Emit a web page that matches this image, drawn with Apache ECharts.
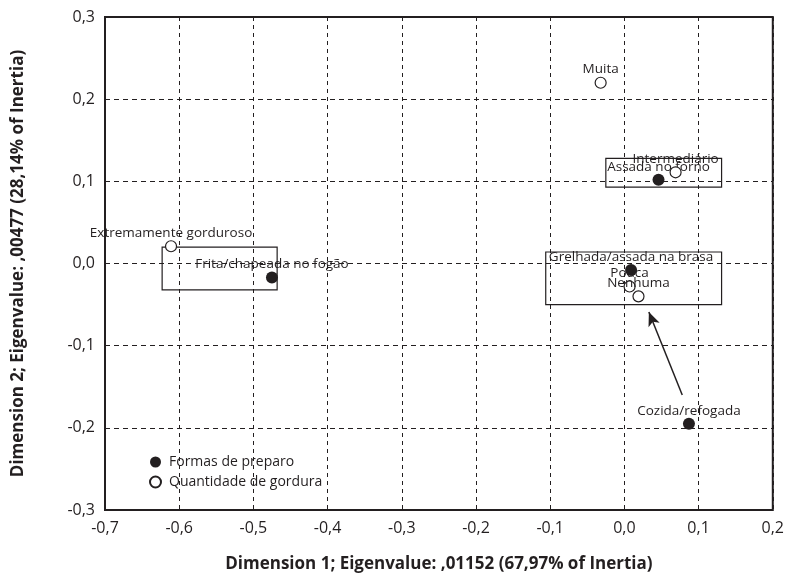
<!DOCTYPE html>
<html>
<head>
<meta charset="utf-8">
<script src="https://cdn.jsdelivr.net/npm/echarts@6/dist/echarts.min.js"></script>
<style>
  html, body { margin: 0; padding: 0; background: #fff; }
  #chart { width: 787px; height: 584px; }
</style>
</head>
<body>
<div id="chart"></div>
<script>
// Correspondence analysis map: cooking methods vs. amount of fat
const prepLabels = ['Assada no forno', 'Grelhada/assada na brasa', 'Frita/chapeada no fogão', 'Cozida/refogada'];
const prepX = [0.046, 0.009, -0.475, 0.087];
const prepY = [0.102, -0.008, -0.017, -0.195];

const fatLabels = ['Muita', 'Intermediário', 'Pouca', 'Nenhuma', 'Extremamente gorduroso'];
const fatX = [-0.032, 0.069, 0.007, 0.019, -0.611];
const fatY = [0.220, 0.111, -0.028, -0.040, 0.021];

// grouping boxes: [x0, y0, x1, y1]
const boxes = [
  [-0.623, 0.020, -0.468, -0.032],
  [-0.025, 0.128, 0.131, 0.093],
  [-0.106, 0.014, 0.131, -0.050]
];
// arrow from Cozida/refogada towards the central group
const arrowFrom = [0.078, -0.160];
const arrowTo = [0.033, -0.059];

const xTicks = { min: -0.7, max: 0.2, step: 0.1 };
const yTicks = { min: -0.3, max: 0.3, step: 0.1 };

const FONT = "'Open Sans', 'Liberation Sans', sans-serif";
const fmt = v => v.toFixed(1).replace('.', ',');

const chart = echarts.init(document.getElementById('chart'), null, { renderer: 'canvas' });

const pointLabel = {
  show: true,
  position: 'top',
  distance: 0,
  fontFamily: FONT,
  fontSize: 13.5,
  color: '#231f20',
  formatter: p => p.data.name
};

chart.setOption({
  animation: false,
  backgroundColor: '#fff',
  grid: {
    left: 105, top: 17, right: 14, bottom: 74,
    show: true, borderColor: '#231f20', borderWidth: 2, backgroundColor: 'transparent'
  },
  legend: {
    orient: 'vertical',
    left: 144, top: 450,
    itemWidth: 11, itemHeight: 11, itemGap: 6,
    icon: 'circle',
    textStyle: { fontFamily: FONT, fontSize: 14, color: '#231f20', padding: [0, 0, 0, 3] },
    data: ['Formas de preparo', 'Quantidade de gordura']
  },
  xAxis: {
    type: 'value',
    min: xTicks.min, max: xTicks.max, interval: xTicks.step,
    name: 'Dimension 1; Eigenvalue: ,01152 (67,97% of Inertia)',
    nameLocation: 'middle', nameGap: 46,
    nameTextStyle: { fontFamily: FONT, fontSize: 17, fontWeight: 'bold', color: '#231f20' },
    axisLine: { show: false },
    axisTick: { show: false },
    axisLabel: { formatter: fmt, fontFamily: FONT, fontSize: 16, color: '#231f20', margin: 10 },
    splitLine: { show: true, lineStyle: { color: '#231f20', type: [4, 4], width: 1 } }
  },
  yAxis: {
    type: 'value',
    min: yTicks.min, max: yTicks.max, interval: yTicks.step,
    name: 'Dimension 2; Eigenvalue: ,00477 (28,14% of Inertia)',
    nameLocation: 'middle', nameGap: 78, nameRotate: 90,
    nameTextStyle: { fontFamily: FONT, fontSize: 17, fontWeight: 'bold', color: '#231f20' },
    axisLine: { show: false },
    axisTick: { show: false },
    axisLabel: { formatter: fmt, fontFamily: FONT, fontSize: 16, color: '#231f20', margin: 10 },
    splitLine: { show: true, lineStyle: { color: '#231f20', type: [5, 4], width: 1 } }
  },
  series: [
    {
      name: 'Formas de preparo',
      type: 'scatter',
      symbol: 'circle',
      symbolSize: 12,
      itemStyle: { color: '#231f20', opacity: 1 },
      label: pointLabel,
      data: prepLabels.map((n, i) => ({ name: n, value: [prepX[i], prepY[i]] })),
      z: 3
    },
    {
      name: 'Quantidade de gordura',
      type: 'scatter',
      symbol: 'circle',
      symbolSize: 11,
      itemStyle: { color: '#fff', borderColor: '#231f20', borderWidth: 1.2, opacity: 1 },
      label: pointLabel,
      data: fatLabels.map((n, i) => ({ name: n, value: [fatX[i], fatY[i]] })),
      z: 4
    },
    {
      name: 'annotations',
      type: 'scatter',
      data: [],
      silent: true,
      markArea: {
        silent: true,
        itemStyle: { color: 'rgba(0,0,0,0)', borderColor: '#231f20', borderWidth: 1.2 },
        label: { show: false },
        data: boxes.map(b => [{ coord: [b[0], b[1]] }, { coord: [b[2], b[3]] }])
      },
      markLine: {
        silent: true,
        symbol: ['none', 'arrow'],
        symbolSize: [9, 14],
        label: { show: false },
        lineStyle: { color: '#231f20', width: 1.5, type: 'solid' },
        data: [[{ coord: arrowFrom }, { coord: arrowTo }]]
      },
      z: 2
    }
  ]
});
</script>
</body>
</html>
